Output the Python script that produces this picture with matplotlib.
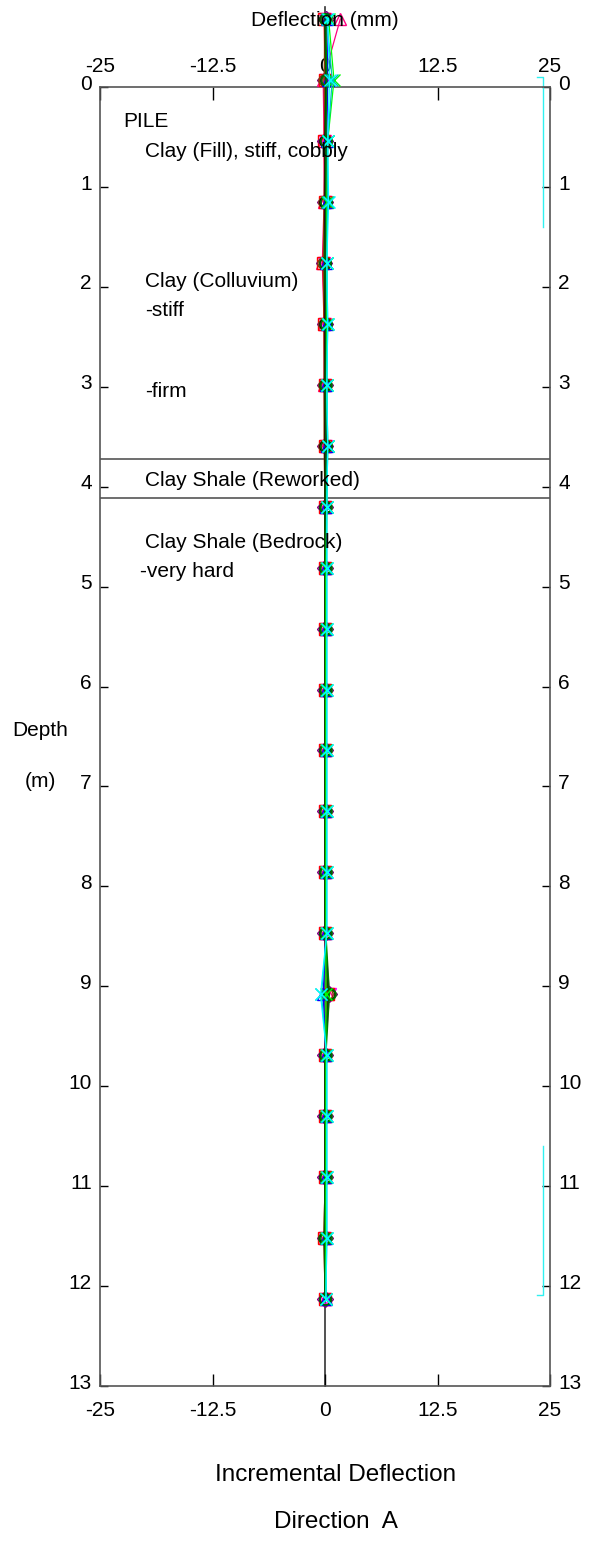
import matplotlib
matplotlib.use('Agg')
import matplotlib.pyplot as plt
import matplotlib.transforms as mtransforms

plt.rcParams['font.family'] = ['Liberation Sans', 'DejaVu Sans']

# depth of each reading (m)
depth = [-0.68, -0.07, 0.54, 1.15, 1.76, 2.37, 2.98, 3.59, 4.20, 4.81, 5.42,
         6.03, 6.64, 7.25, 7.86, 8.47, 9.08, 9.69, 10.30, 10.91, 11.52, 12.13]

# incremental deflection per reading (mm)
r01 = [0.0, 0.1, 0.0, 0.0, 0.0, 0.0, 0.0, 0.0, 0.0, 0.0, 0.0,
       0.0, 0.0, 0.0, 0.0, 0.0, 0.4, 0.0, 0.0, 0.0, 0.0, 0.0]
r02 = [0.1, 0.2, 0.1, 0.1, 0.0, 0.1, 0.1, 0.1, 0.1, 0.1, 0.1,
       0.1, 0.1, 0.1, 0.1, 0.1, 0.5, 0.1, 0.1, 0.1, 0.1, 0.0]
r03 = [-0.1, 0.0, -0.1, 0.0, -0.2, -0.1, 0.0, 0.0, 0.0, 0.0, 0.0,
       0.0, 0.0, 0.0, 0.0, 0.0, 0.3, 0.0, 0.0, 0.0, -0.1, 0.0]
r04 = [0.2, 0.3, 0.2, 0.2, 0.1, 0.2, 0.1, 0.2, 0.1, 0.1, 0.1,
       0.1, 0.1, 0.1, 0.1, 0.1, -0.2, 0.1, 0.1, 0.1, 0.1, 0.1]
r05 = [0.0, -0.1, 0.0, -0.1, -0.2, -0.1, -0.1, -0.1, 0.0, 0.0, 0.0,
       0.0, 0.0, 0.0, 0.0, 0.0, 0.2, 0.0, 0.0, 0.0, -0.1, 0.0]
r06 = [0.3, 0.5, 0.3, 0.4, 0.2, 0.3, 0.2, 0.3, 0.2, 0.2, 0.2,
       0.2, 0.2, 0.2, 0.2, 0.2, -0.5, 0.2, 0.2, 0.2, 0.2, 0.1]
r07 = [0.1, 0.0, 0.0, 0.0, -0.1, 0.0, 0.0, 0.0, 0.0, 0.0, 0.0,
       0.0, 0.0, 0.0, 0.0, 0.0, 0.4, 0.0, 0.0, 0.0, 0.0, 0.0]
r08 = [0.4, 1.0, 0.3, 0.2, 0.2, 0.2, 0.2, 0.3, 0.2, 0.1, 0.1,
       0.1, 0.1, 0.1, 0.1, 0.1, 0.1, 0.1, 0.1, 0.1, 0.1, 0.1]
r09 = [1.7, -0.2, -0.1, -0.1, -0.3, -0.1, -0.1, 0.0, 0.0, 0.0, 0.0,
       0.0, 0.0, 0.0, 0.0, 0.0, 0.3, 0.0, 0.0, 0.0, 0.0, 0.0]
r10 = [0.0, 0.1, 0.1, 0.1, 0.0, 0.1, 0.0, 0.1, 0.0, 0.0, 0.0,
       0.0, 0.0, 0.0, 0.0, 0.0, 0.4, 0.0, 0.0, 0.0, -0.1, 0.0]
r11 = [0.2, 0.8, 0.3, 0.3, 0.2, 0.3, 0.2, 0.3, 0.2, 0.2, 0.2,
       0.2, 0.2, 0.2, 0.2, 0.2, -0.4, 0.2, 0.2, 0.2, 0.2, 0.1]
r12 = [0.0, 0.0, 0.0, 0.1, -0.1, 0.0, 0.0, 0.1, 0.0, 0.0, 0.0,
       0.0, 0.0, 0.0, 0.0, 0.0, 0.5, 0.0, 0.0, 0.0, 0.0, 0.0]

readings = [r12, r09, r03, r07, r05, r01, r04, r02, r10, r08, r11, r06]
colors = ['#ff00ff', '#ff0080', '#ff0000', '#800080', '#804000', '#000000',
          '#0000ff', '#008000', '#006400', '#00ff00', '#00c0c0', '#00ffff']
markers = ['v', '^', 's', 'D', 'o', 'o', '^', 'o', 'o', 'x', 'x', 'x']

xticks = [-25, -12.5, 0, 12.5, 25]
xlabels = ['-25', '-12.5', '0', '12.5', '25']
yticks = list(range(0, 14))

layers = [(-22.4, 0.35, 'PILE'),
          (-20.0, 0.65, 'Clay (Fill), stiff, cobbly'),
          (-20.0, 1.95, 'Clay (Colluvium)'),
          (-20.0, 2.24, '-stiff'),
          (-20.0, 3.05, '-firm'),
          (-20.0, 3.94, 'Clay Shale (Reworked)'),
          (-20.0, 4.56, 'Clay Shale (Bedrock)'),
          (-20.5, 4.85, '-very hard')]
boundaries = [3.72, 4.11]

fig = plt.figure(figsize=(5.95, 15.41), dpi=100)
ax = fig.add_axes([100 / 595, 1 - 1386 / 1541, 450 / 595, 1299 / 1541])

ax.plot([0, 0], [-0.8, 13], color='#333333', lw=1.2, clip_on=False, zorder=1)
for b in boundaries:
    ax.axhline(b, color='#555555', lw=1.2)

for vals, c, m in zip(readings, colors, markers):
    ax.plot(vals, depth, color=c, lw=0.9, marker=m, ms=8, mfc='none',
            mec=c, mew=1.0, clip_on=False, zorder=3)

# casing brackets
ax.plot([23.6, 24.2, 24.2], [-0.1, -0.1, 1.4], color='#30f0f0', lw=1, clip_on=False)
ax.plot([24.2, 24.2, 23.6], [10.6, 12.09, 12.09], color='#30f0f0', lw=1, clip_on=False)

for x, y, t in layers:
    ax.text(x, y, t, fontsize=15, va='center', ha='left')

ax.set_xlim(-25, 25)
ax.set_ylim(13, 0)
ax.set_xticks(xticks)
ax.set_xticklabels(xlabels)
ax.set_yticks(yticks)
ax.tick_params(axis='x', direction='in', length=9, width=1, top=True,
               labeltop=True, pad=11, labelsize=15)
ax.tick_params(axis='y', direction='in', length=6, width=1, right=True,
               labelright=True, pad=6, labelsize=15)

up = mtransforms.ScaledTranslation(0, 3.5 / 72, fig.dpi_scale_trans)
for t in ax.yaxis.get_major_ticks():
    t.label1.set_transform(t.label1.get_transform() + up)
    t.label2.set_transform(t.label2.get_transform() + up)
down = mtransforms.ScaledTranslation(0, -3 / 72, fig.dpi_scale_trans)
for t in ax.xaxis.get_major_ticks():
    t.label2.set_transform(t.label2.get_transform() + down)

for s in ax.spines.values():
    s.set_color('#555555')
    s.set_linewidth(1.2)

fig.text(325 / 595, 1 - 20 / 1541, 'Deflection (mm)', ha='center', va='center', fontsize=15)
fig.text(40 / 595, 1 - 730 / 1541, 'Depth', ha='center', va='center', fontsize=15)
fig.text(40 / 595, 1 - 781 / 1541, '(m)', ha='center', va='center', fontsize=15)
fig.text(336 / 595, 1 - 1475 / 1541, 'Incremental Deflection', ha='center', va='center', fontsize=17.5)
fig.text(336 / 595, 1 - 1522 / 1541, 'Direction  A', ha='center', va='center', fontsize=17.5)

fig.savefig('out.png', dpi=100)
